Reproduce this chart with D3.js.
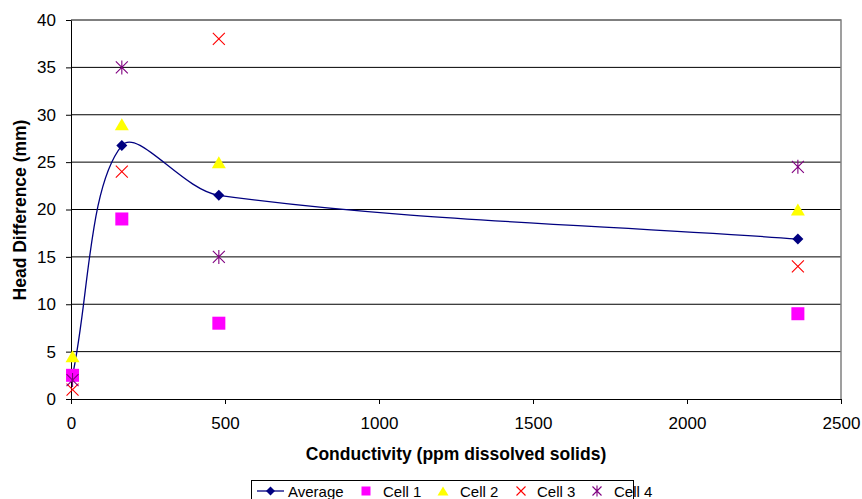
<!DOCTYPE html>
<html><head><meta charset="utf-8">
<script src="https://cdn.jsdelivr.net/npm/d3@7"></script>
<style>body{margin:0;background:#fff}svg{display:block;font-family:Arial,"Liberation Sans",sans-serif}</style>
</head><body>
<svg id="c" width="862" height="499"></svg>
<script>
const conductivity = [5, 165, 480, 2360];
const average = [2.5, 26.75, 21.5, 16.875];
const cell1 = [2.5, 19, 8, 9];
const cell2 = [4.5, 29, 25, 20];
const cell3 = [1, 24, 38, 14];
const cell4 = [2, 35, 15, 24.5];
const xTicks = [0, 500, 1000, 1500, 2000, 2500];
const yTicks = [0, 5, 10, 15, 20, 25, 30, 35, 40];

// Excel-like smoothed curve (chord-length scaled tangents)
function ExcelSmooth(context) { this._context = context; }
ExcelSmooth.prototype = {
  areaStart() {}, areaEnd() {},
  lineStart() { this._pts = []; },
  point(x, y) { this._pts.push([+x, +y]); },
  lineEnd() {
    const p = this._pts, n = p.length, c = this._context;
    if (!n) return;
    c.moveTo(p[0][0], p[0][1]);
    if (n === 1) return;
    const d = (a, b) => Math.hypot(b[0] - a[0], b[1] - a[1]);
    const tan = i => {
      if (i === 0) { const l = d(p[0], p[1]); return [(p[1][0]-p[0][0])/l, (p[1][1]-p[0][1])/l]; }
      if (i === n - 1) { const l = d(p[n-2], p[n-1]); return [(p[n-1][0]-p[n-2][0])/l, (p[n-1][1]-p[n-2][1])/l]; }
      const s = d(p[i-1], p[i]) + d(p[i], p[i+1]);
      return [(p[i+1][0]-p[i-1][0])/s, (p[i+1][1]-p[i-1][1])/s];
    };
    for (let i = 0; i < n - 1; i++) {
      const l = d(p[i], p[i+1]) / 3, t0 = tan(i), t1 = tan(i+1);
      c.bezierCurveTo(p[i][0] + t0[0]*l, p[i][1] + t0[1]*l,
                      p[i+1][0] - t1[0]*l, p[i+1][1] - t1[1]*l,
                      p[i+1][0], p[i+1][1]);
    }
  }
};
const curveExcel = ctx => new ExcelSmooth(ctx);

const svg = d3.select("#c");
const L = 71, R = 841, T = 20, B = 399;
const x = d3.scaleLinear().domain([0, 2500]).range([L, R]);
const y = d3.scaleLinear().domain([0, 40]).range([B, T]);

// gridlines
svg.append("g").selectAll("line").data(yTicks.filter(d => d > 0)).join("line")
  .attr("x1", L).attr("x2", R).attr("y1", d => y(d)).attr("y2", d => y(d))
  .attr("stroke", "#000").attr("stroke-width", 1);
// plot border (top/right)
svg.append("path").attr("d", `M${L},${T}H${R}V${B}`).attr("fill", "none").attr("stroke", "#808080").attr("stroke-width", 1.5);

// axes
const xAxis = svg.append("g").attr("transform", `translate(0,${B})`)
  .call(d3.axisBottom(x).tickValues(xTicks).tickFormat(d3.format("d")).tickSize(5).tickSizeOuter(0).tickPadding(13));
const yAxis = svg.append("g").attr("transform", `translate(${L},0)`)
  .call(d3.axisLeft(y).tickValues(yTicks).tickFormat(d3.format("d")).tickSize(5).tickSizeOuter(0).tickPadding(10));
[xAxis, yAxis].forEach(a => {
  a.attr("font-size", 17).attr("font-family", "Arial, 'Liberation Sans', sans-serif");
  a.select(".domain").attr("stroke", "#000");
  a.selectAll(".tick line").attr("stroke", "#000");
  a.selectAll("text").attr("fill", "#000");
});

// titles
svg.append("text").attr("x", 456).attr("y", 460).attr("text-anchor", "middle")
  .attr("font-size", 17.5).attr("font-weight", "bold").text("Conductivity (ppm dissolved solids)");
svg.append("text").attr("transform", "translate(26,210) rotate(-90)").attr("text-anchor", "middle")
  .attr("font-size", 17.5).attr("font-weight", "bold").text("Head Difference (mm)");

// marker functions
function diamond(g, cx, cy, s) { g.append("path").attr("d", `M${cx},${cy-s}L${cx+s},${cy}L${cx},${cy+s}L${cx-s},${cy}Z`).attr("fill", "#000080"); }
function square(g, cx, cy, s) { g.append("rect").attr("x", cx-s).attr("y", cy-s).attr("width", 2*s).attr("height", 2*s).attr("fill", "#FF00FF"); }
function tri(g, cx, cy, s) { g.append("path").attr("d", `M${cx},${cy-s}L${cx+s+1},${cy+s}L${cx-s-1},${cy+s}Z`).attr("fill", "#FFFF00"); }
function cross(g, cx, cy, s) { g.append("path").attr("d", `M${cx-s},${cy-s}L${cx+s},${cy+s}M${cx+s},${cy-s}L${cx-s},${cy+s}`).attr("stroke", "#FF0000").attr("stroke-width", 1.1).attr("fill", "none"); }
function star(g, cx, cy, s) { g.append("path").attr("d", `M${cx-s},${cy-s}L${cx+s},${cy+s}M${cx+s},${cy-s}L${cx-s},${cy+s}M${cx},${cy-s-1}L${cx},${cy+s+1}`).attr("stroke", "#800080").attr("stroke-width", 1.1).attr("fill", "none"); }

// average smoothed line (series 1, drawn first)
const line = d3.line().x(d => x(d[0])).y(d => y(d[1])).curve(curveExcel);
svg.append("path").datum(conductivity.map((c, i) => [c, average[i]]))
  .attr("d", line).attr("fill", "none").attr("stroke", "#000080").attr("stroke-width", 1.3);
const dg = svg.append("g");
conductivity.forEach((c, i) => diamond(dg, x(c), y(average[i]), 5.5));

const pts = svg.append("g");
conductivity.forEach((c, i) => square(pts, x(c), y(cell1[i]), 6.5));
conductivity.forEach((c, i) => tri(pts, x(c), y(cell2[i]), 6));
conductivity.forEach((c, i) => cross(pts, x(c), y(cell3[i]), 6));
conductivity.forEach((c, i) => star(pts, x(c), y(cell4[i]), 6));

// legend
const lg = svg.append("g");
lg.append("rect").attr("x", 251.5).attr("y", 480.5).attr("width", 382).attr("height", 25).attr("fill", "#fff").attr("stroke", "#000");
const ly = 491;
lg.append("line").attr("x1", 257).attr("x2", 284).attr("y1", ly).attr("y2", ly).attr("stroke", "#000080").attr("stroke-width", 1.3);
diamond(lg, 270.5, ly, 4.5);
const items = [
  {label: "Average", tx: 288},
  {label: "Cell 1", tx: 383, m: square, mx: 366, s: 4.5},
  {label: "Cell 2", tx: 460, m: tri, mx: 443, s: 4.5},
  {label: "Cell 3", tx: 537, m: cross, mx: 521, s: 4.5},
  {label: "Cell 4", tx: 614, m: star, mx: 597, s: 4.5}
];
items.forEach(it => {
  if (it.m) it.m(lg, it.mx, ly, it.s);
  lg.append("text").attr("x", it.tx).attr("y", ly + 5.5).attr("font-size", 15).text(it.label);
});
</script>
</body></html>
